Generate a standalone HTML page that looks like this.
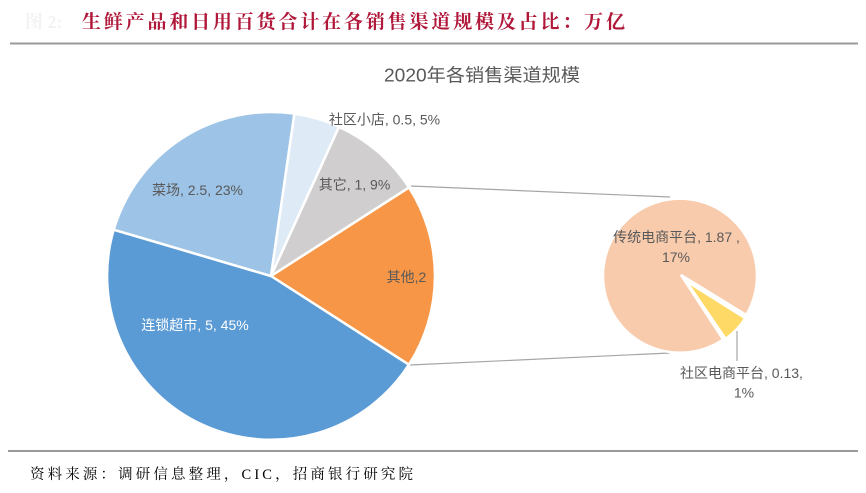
<!DOCTYPE html>
<html>
<head>
<meta charset="utf-8">
<style>
html,body{margin:0;padding:0;background:#fff;}
svg{display:block;}
.lbl{font-family:"Liberation Sans","Noto Sans CJK SC",sans-serif;font-size:14px;fill:#595959;}
</style>
</head>
<body>
<svg width="866" height="493" viewBox="0 0 866 493" xmlns="http://www.w3.org/2000/svg">
  <rect width="866" height="493" fill="#fff"/>
  <!-- header -->
  <text x="25" y="28" font-family="'Liberation Serif','Noto Serif CJK SC',serif" font-size="18" fill="#f2f2f2" font-weight="bold">图 2:</text>
  <text x="82" y="28" font-family="'Liberation Serif','Noto Serif CJK SC',serif" font-size="19" font-weight="bold" fill="#B0183A" textLength="543" lengthAdjust="spacing">生鲜产品和日用百货合计在各销售渠道规模及占比：万亿</text>
  <line x1="10" y1="43.5" x2="858" y2="43.5" stroke="#9a9a9a" stroke-width="2"/>

  <!-- chart title -->
  <text x="482" y="81.5" text-anchor="middle" font-family="'Liberation Sans','Noto Sans CJK SC',sans-serif" font-size="18" fill="#595959" textLength="196" lengthAdjust="spacingAndGlyphs">2020年各销售渠道规模</text>

  <!-- connector lines -->
  <line x1="411" y1="186" x2="670" y2="197" stroke="#A6A6A6" stroke-width="1.2"/>
  <line x1="410" y1="365" x2="670" y2="353" stroke="#A6A6A6" stroke-width="1.2"/>

  <!-- main pie, center (271,276) r=164 -->
  <g stroke="#fff" stroke-width="2.5" stroke-linejoin="round">
    <!-- orange 57.3 -> 122.75 -->
    <path d="M271,276 L409.0,187.4 A164,164 0 0 1 408.9,364.7 Z" fill="#F79646"/>
    <!-- 连锁超市 122.75 -> 286.4 -->
    <path d="M271,276 L408.9,364.7 A164,164 0 0 1 113.7,229.7 Z" fill="#5B9BD5"/>
    <!-- 菜场 286.4 -> 8.2 -->
    <path d="M271,276 L113.7,229.7 A164,164 0 0 1 294.4,113.7 Z" fill="#9DC3E6"/>
    <!-- 社区小店 8.2 -> 24.5 -->
    <path d="M271,276 L294.4,113.7 A164,164 0 0 1 339.0,126.8 Z" fill="#DEEBF7"/>
    <!-- 其它 24.5 -> 57.3 -->
    <path d="M271,276 L339.0,126.8 A164,164 0 0 1 409.0,187.4 Z" fill="#D0CECE"/>
  </g>

  <!-- small pie, center (681,274) r=77 -->
  <g stroke="#fff" stroke-width="2.5" stroke-linejoin="miter">
    <!-- orange from 146.9 to 482.2 -->
    <path d="M681,275 L723.1,339.5 A77,77 0 1 1 746.2,315.0 Z" fill="#F8CBAD"/>
    <!-- yellow exploded -->
    <path d="M686,281 L745.3,318.2 A70,70 0 0 1 725.6,338.8 Z" fill="#FFD966"/>
  </g>
  <!-- yellow leader line -->
  <line x1="737" y1="331" x2="737" y2="361" stroke="#A6A6A6" stroke-width="1.2"/>

  <!-- labels main pie -->
  <text class="lbl" x="384.5" y="124.5" text-anchor="middle">社区小店, 0.5, 5%</text>
  <text class="lbl" x="354.5" y="189.5" text-anchor="middle">其它, 1, 9%</text>
  <text class="lbl" x="197.5" y="195" text-anchor="middle">菜场, 2.5, 23%</text>
  <text class="lbl" x="406.5" y="282" text-anchor="middle">其他,2</text>
  <text class="lbl" x="195" y="330" text-anchor="middle" style="fill:#fff">连锁超市, 5, 45%</text>

  <!-- labels small pie -->
  <text class="lbl" x="676.5" y="242" text-anchor="middle">传统电商平台, 1.87 ,</text>
  <text class="lbl" x="676" y="262" text-anchor="middle">17%</text>
  <text class="lbl" x="741.5" y="378" text-anchor="middle">社区电商平台, 0.13,</text>
  <text class="lbl" x="744" y="397.5" text-anchor="middle">1%</text>

  <!-- bottom line and footer -->
  <line x1="8" y1="451" x2="858" y2="451" stroke="#9a9a9a" stroke-width="2"/>
  <text x="30" y="479" font-family="'Liberation Serif','Noto Serif CJK SC',serif" font-size="14.5" fill="#000" textLength="383" lengthAdjust="spacing">资料来源：调研信息整理，CIC，招商银行研究院</text>
</svg>
</body>
</html>
